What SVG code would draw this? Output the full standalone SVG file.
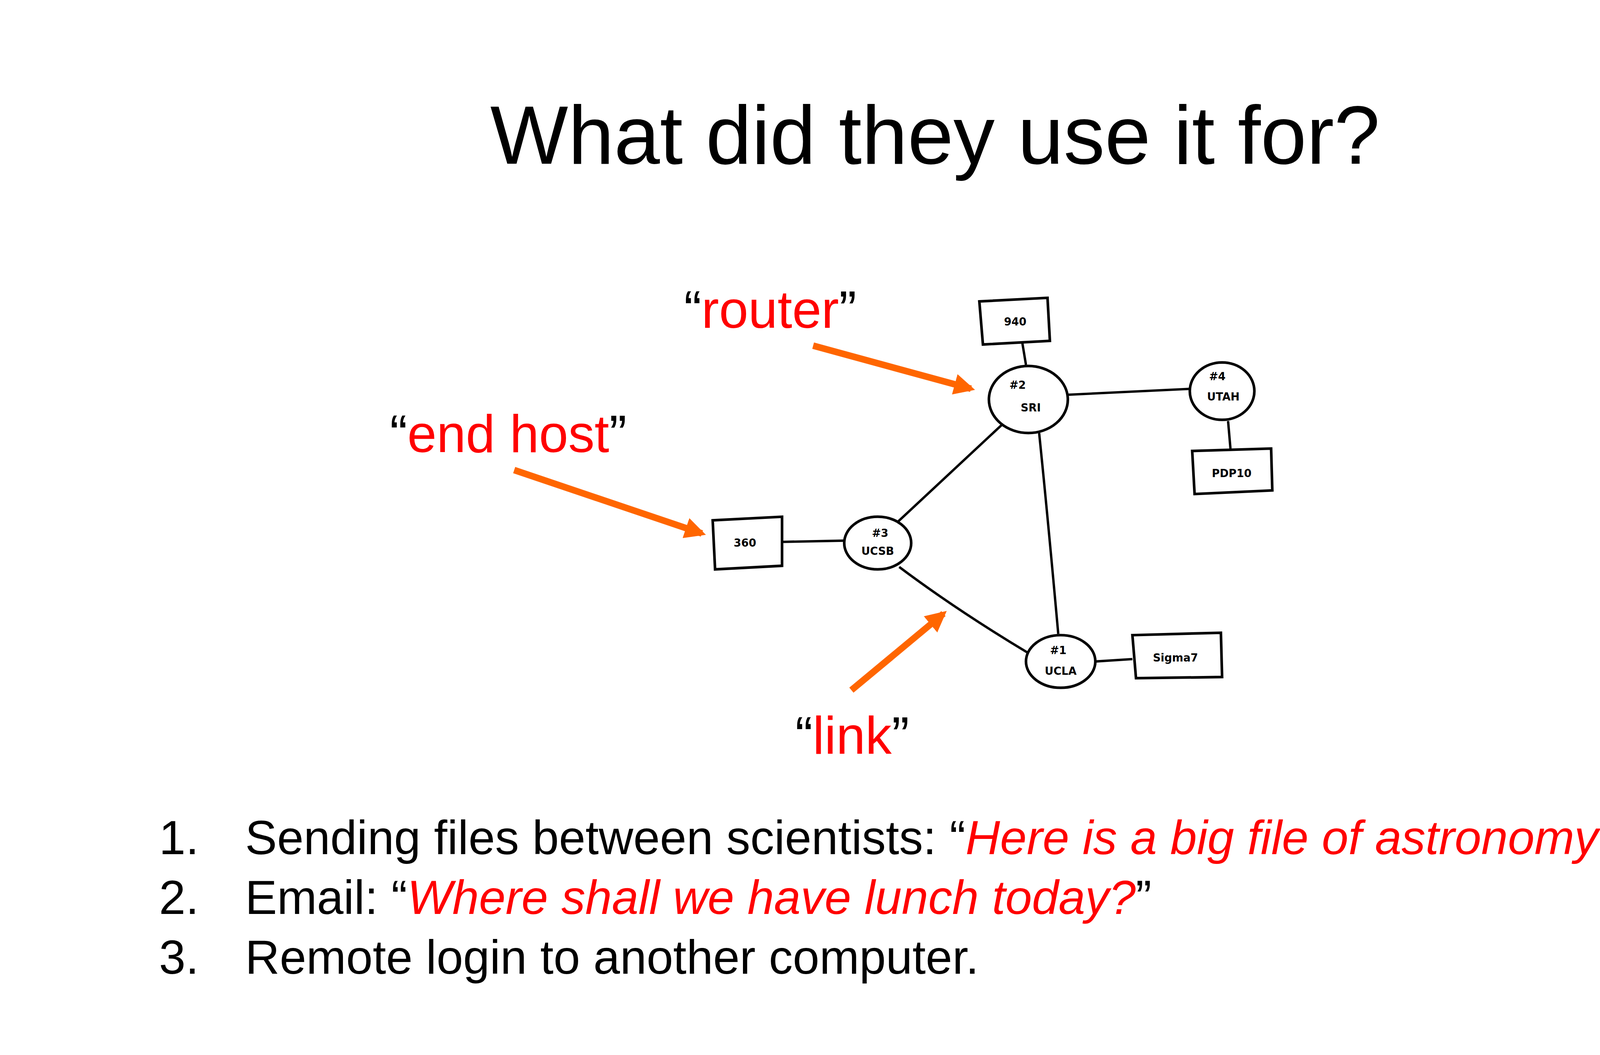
<svg xmlns="http://www.w3.org/2000/svg" width="4800" height="2700" viewBox="0 0 4800 2700">
<style>
.t{font-family:"Liberation Sans",Arial,sans-serif}
.red{fill:#ff0000}
.box{fill:#fff;stroke:#000;stroke-width:2.2}
.hand{font-family:"DejaVu Sans",sans-serif;font-weight:bold;font-size:9px;text-anchor:middle}
.ln{stroke:#000;stroke-width:2;fill:none}
.arr{stroke:#ff6600;stroke-width:5.5;fill:none}
</style>
<defs>
<marker id="ah" viewBox="0 0 10 10" refX="8" refY="5" markerWidth="3.2" markerHeight="3.2" orient="auto" markerUnits="strokeWidth"><path d="M0,0 L10,5 L0,10 z" fill="#ff6600"/></marker>
</defs>
<rect width="4800" height="2700" fill="#fff"/>
<g transform="scale(3.0612)">
<text class="t" x="782" y="137" font-size="69" text-anchor="middle">What did they use it for?</text>
<g id="connectors">
<path class="ln" d="M855,287 L858,305"/>
<path class="ln" d="M893,330 L997,325"/>
<path class="ln" d="M1027,352 L1029,375"/>
<path class="ln" d="M838,355 L750,437"/>
<path class="ln" d="M869,362 Q876,430 885,530"/>
<path class="ln" d="M655,453 L706,452"/>
<path class="ln" d="M752,474 Q800,510 860,546"/>
<path class="ln" d="M916,553 L947,551"/>
<path class="arr" d="M680,289 L812,325" marker-end="url(#ah)"/>
<path class="arr" d="M430,393 L587,446" marker-end="url(#ah)"/>
<path class="arr" d="M712,577 L789,513" marker-end="url(#ah)"/>
</g>
<g id="n940"><path class="box" d="M819,252 L876,249 L878,285 L822,288 Z"/><text class="hand" x="849" y="272">940</text></g>
<g id="nSRI"><ellipse class="box" cx="860" cy="334" rx="33" ry="28"/><text class="hand" x="851" y="325" font-size="7">#2</text><text class="hand" x="862" y="344">SRI</text></g>
<g id="nUTAH"><ellipse class="box" cx="1022" cy="327" rx="27" ry="24"/><text class="hand" x="1018" y="318" font-size="7">#4</text><text class="hand" x="1023" y="335" font-size="8">UTAH</text></g>
<g id="nPDP10"><path class="box" d="M997,377 L1063,375 L1064,410 L999,413 Z"/><text class="hand" x="1030" y="399" font-size="8">PDP10</text></g>
<g id="n360"><path class="box" d="M596,435 L654,432 L654,473 L598,476 Z"/><text class="hand" x="623" y="457">360</text></g>
<g id="nUCSB"><ellipse class="box" cx="734" cy="454" rx="28" ry="22"/><text class="hand" x="736" y="449" font-size="7">#3</text><text class="hand" x="734" y="464" font-size="8">UCSB</text></g>
<g id="nUCLA"><ellipse class="box" cx="887" cy="553" rx="29" ry="22"/><text class="hand" x="885" y="547" font-size="7">#1</text><text class="hand" x="887" y="564" font-size="8">UCLA</text></g>
<g id="nSigma7"><path class="box" d="M947,531 L1021,529 L1022,566 L950,567 Z"/><text class="hand" x="983" y="553" font-size="8">Sigma7</text></g>
<text class="t" x="572" y="274" font-size="44"><tspan>“</tspan><tspan class="red">router</tspan><tspan>”</tspan></text>
<text class="t" x="326" y="378" font-size="44"><tspan>“</tspan><tspan class="red">end host</tspan><tspan>”</tspan></text>
<text class="t" x="665" y="630" font-size="44"><tspan>“</tspan><tspan class="red">link</tspan><tspan>”</tspan></text>
<g class="t" font-size="40">
<text x="133" y="714">1.</text><text x="205" y="714">Sending files between scientists: “<tspan class="red" font-style="italic">Here is a big file of astronomy data!</tspan>”</text>
<text x="133" y="764">2.</text><text x="205" y="764">Email: “<tspan class="red" font-style="italic">Where shall we have lunch today?</tspan>”</text>
<text x="133" y="814">3.</text><text x="205" y="814">Remote login to another computer.</text>
</g>
</g>
</svg>
